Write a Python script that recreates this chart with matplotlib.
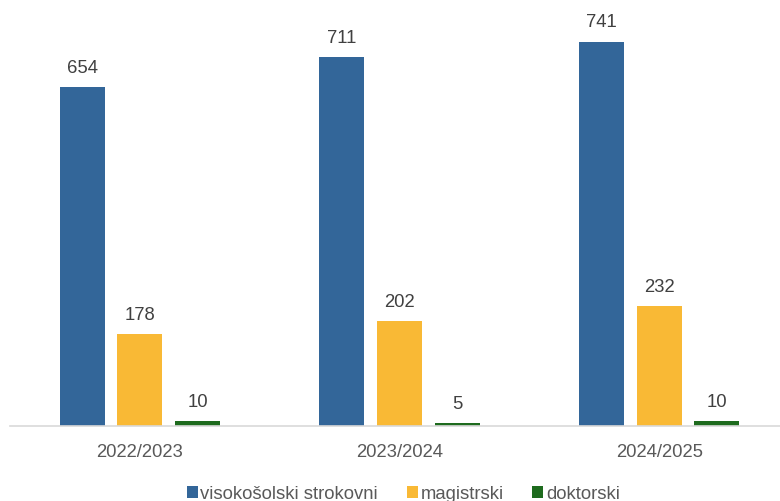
import numpy as np
import matplotlib.pyplot as plt

plt.rcParams['font.family'] = ['Liberation Sans', 'DejaVu Sans']

# podatki
leta = ["2022/2023", "2023/2024", "2024/2025"]
visokosolski = [654, 711, 741]
magistrski = [178, 202, 232]
doktorski = [10, 5, 10]

serije = [
    ("visokošolski strokovni", visokosolski, "#336699"),
    ("magistrski", magistrski, "#F9B935"),
    ("doktorski", doktorski, "#1E6B1E"),
]

fig = plt.figure(figsize=(7.8, 5.02), dpi=100)
ax = fig.add_axes([10 / 780, 75 / 502, 770 / 780, 415 / 502])

x = np.arange(len(leta))
sirina = 0.174
odmik = 0.222

for i, (ime, vrednosti, barva) in enumerate(serije):
    pos = x + (i - 1) * odmik
    bars = ax.bar(pos, vrednosti, width=sirina, color=barva, label=ime)
    for b, v in zip(bars, vrednosti):
        ax.annotate(str(v), (b.get_x() + b.get_width() / 2, v),
                    xytext=(0, 8), textcoords="offset points",
                    ha="center", va="bottom", fontsize=13.3, color="#404040")

ax.set_xlim(-0.5, 2.465)
ax.set_ylim(0, 800)
ax.set_xticks(x)
ax.set_xticklabels(leta, fontsize=13.3, color="#595959")
ax.tick_params(axis="x", length=0, pad=12)
ax.set_yticks([])
for s in ["top", "right", "left"]:
    ax.spines[s].set_visible(False)
ax.spines["bottom"].set_color("#D9D9D9")
ax.spines["bottom"].set_linewidth(1.2)

fig.legend(loc="lower center", bbox_to_anchor=(0.517, -0.036), ncol=3, frameon=False,
           fontsize=13.3, handlelength=0.6, handleheight=0.6, handletextpad=0.15,
           columnspacing=1.55, labelcolor="#595959")

fig.savefig("out.png", dpi=100)
